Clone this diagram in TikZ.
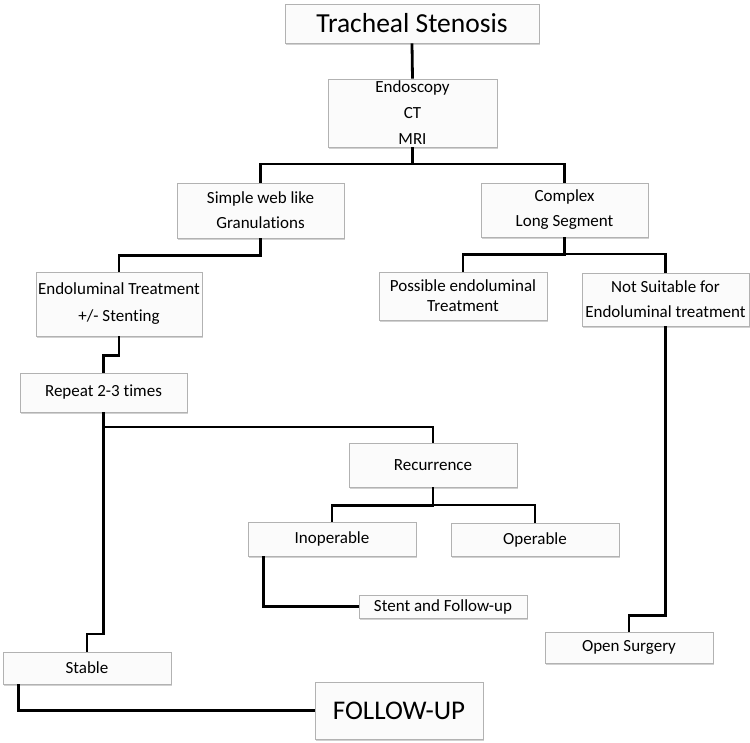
\documentclass[tikz,border=0pt]{standalone}
\usepackage{fontspec}
\setmainfont{Carlito}[Ligatures=NoCommon]
\usetikzlibrary{shadows}
\begin{document}
\begin{tikzpicture}[x=1pt,y=-1pt,
  box/.style={draw=gray!60, line width=0.8pt, fill=gray!3, inner sep=0pt, align=center,
    font=\fontsize{17}{25}\selectfont,
    drop shadow={shadow xshift=1.2pt, shadow yshift=-1.6pt, fill=gray!45, opacity=0.8}},
  conn/.style={line width=2.8pt, black}]
\useasboundingbox (0,0) rectangle (750,743);
\fill[white] (0,0) rectangle (750,743);

\node[box, minimum width=254, minimum height=39, font=\fontsize{27.5}{30}\selectfont] (ts) at (412,23.5) {Tracheal Stenosis};
\node[box, minimum width=169, minimum height=68, font=\fontsize{17}{26}\selectfont] (endo) at (412.5,113) {Endoscopy\\CT\\MRI};
\node[box, minimum width=167, minimum height=55] (simple) at (260.5,210.5) {Simple web like\\Granulations};
\node[box, minimum width=167, minimum height=54] (complex) at (564.5,210) {Complex\\Long Segment};
\node[box, minimum width=168, minimum height=48, font=\fontsize{17}{20}\selectfont] (possible) at (463,296) {Possible endoluminal\\Treatment};
\node[box, minimum width=167, minimum height=53] (notsuit) at (665.5,299.5) {Not Suitable for\\Endoluminal treatment};
\node[box, minimum width=166, minimum height=64, font=\fontsize{17}{27}\selectfont] (endolum) at (119,304) {Endoluminal Treatment\\+/- Stenting};
\node[box, minimum width=167, minimum height=39] (repeat) at (103.5,392.5) {Repeat 2-3 times};
\node[box, minimum width=168, minimum height=44] (recur) at (433,465) {Recurrence};
\node[box, minimum width=168, minimum height=34] (inop) at (332,539) {Inoperable};
\node[box, minimum width=168, minimum height=33] (oper) at (535,539.5) {Operable};
\node[box, minimum width=168, minimum height=23] (stent) at (443,606.5) {Stent and Follow-up};
\node[box, minimum width=168, minimum height=32] (stable) at (87,668) {Stable};
\node[box, minimum width=168, minimum height=31] (open) at (629,647.5) {Open Surgery};
\node[box, minimum width=168, minimum height=57, font=\fontsize{27}{30}\selectfont] (follow) at (399,710.5) {FOLLOW-UP};

\draw[conn] (ts.south) -- (endo.north);
\draw[conn] (endo.south) -- (endo.south |- 0,164) -| (simple.north);
\draw[conn] (endo.south |- 0,164) -| (complex.north);
\draw[conn] (simple.south) -- ++(0,17) -| (endolum.north);
\draw[conn] (complex.south) -- ++(0,17) -| (possible.north);
\draw[conn] (complex.south |- 0,254) -| (notsuit.north);
\draw[conn] (endolum.south) -- ++(0,19) -| (repeat.north);
\draw[conn] (repeat.south) -- (repeat.south |- 0,634) -| (stable.north);
\draw[conn] (repeat.south |- 0,427) -| (recur.north);
\draw[conn] (recur.south) -- ++(0,18) -| (inop.north);
\draw[conn] (recur.south |- 0,505) -| (oper.north);
\draw[conn] ([xshift=16pt]inop.south west) |- (stent.west);
\draw[conn] (notsuit.south) -- ++(0,289) -| (open.north);
\draw[conn] ([xshift=16pt]stable.south west) |- (follow.west);
\end{tikzpicture}
\end{document}
